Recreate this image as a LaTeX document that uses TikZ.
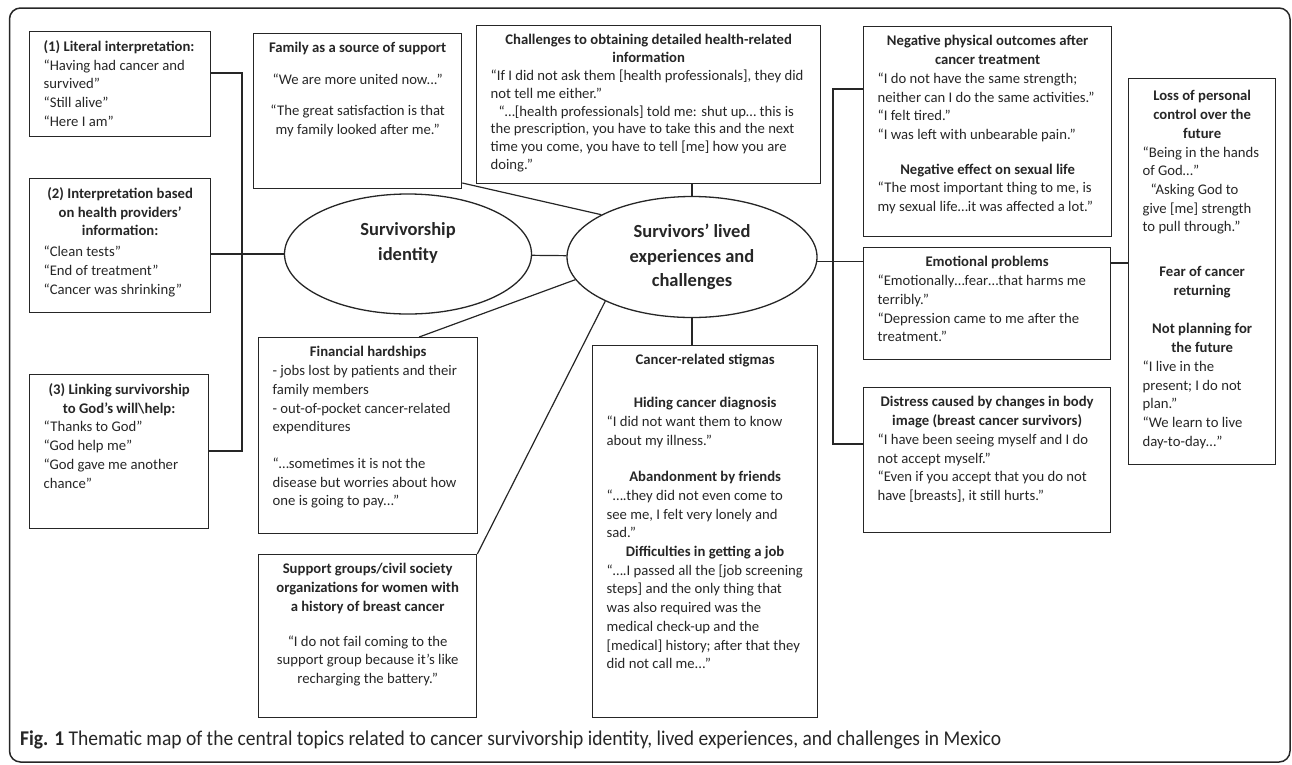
\documentclass[tikz,border=0pt]{standalone}
\usepackage{fontspec}
\setmainfont{Carlito}
\newfontfamily\capfont{Carlito}[FakeStretch=0.93]
\usetikzlibrary{shapes.geometric}

\tikzset{
  theme/.style={draw=black!85, line width=1.3pt, anchor=north west, inner xsep=14pt, inner ysep=9pt, text=black!85, font=\fontsize{14.7}{18.7}\selectfont},
  core/.style={ellipse, draw=black!85, line width=1.3pt, inner sep=0pt, align=center, text=black!85, font=\fontsize{18.5}{24.5}\selectfont\bfseries},
  link/.style={draw=black!85, line width=1.2pt}
}
\newcommand{\cellbox}[3]{\parbox[t][#2][t]{#1}{\raggedright #3}}
\newcommand{\hd}[1]{{\centering\bfseries #1\par}}
\newcommand{\cq}[1]{{\centering #1\par}}

\begin{document}
\begin{tikzpicture}[x=1pt, y=-1pt]
  \useasboundingbox (0,0) rectangle (1292,764);
  \draw[black!85, line width=1.5pt, rounded corners=11pt] (9.5,8) rectangle (1290,762);

  \node[theme] (lit) at (29,31) {\cellbox{153pt}{87pt}{%
    {\bfseries (1) Literal interpretation:}\\
    “Having had cancer and\\
    survived”\\
    “Still alive”\\
    “Here I am”}};
  \node[theme] (interp) at (29,178) {\cellbox{153pt}{116pt}{%
    \hd{(2) Interpretation based\\ on health providers’\\ information:}\vspace{2pt}
    “Clean tests”\\
    “End of treatment”\\
    “Cancer was shrinking”}};
  \node[theme] (god) at (29,374) {\cellbox{151pt}{136pt}{%
    \hd{(3) Linking survivorship\\ to God’s will\textbackslash help:}
    “Thanks to God”\\
    “God help me”\\
    “God gave me another\\
    chance”}};

  \node[theme] (family) at (253,33) {\cellbox{180pt}{137pt}{%
    \hd{Family as a source of support}\vspace{13pt}
    \cq{“We are more united now...”}\vspace{12pt}
    \cq{“The great satisfaction is that\\ my family looked after me.”}}};
  \node[theme] (chal) at (476,25) {\cellbox{316pt}{140pt}{\fontsize{14.7}{17.8}\selectfont
    \hd{Challenges to obtaining detailed health-related\\ information}
    “If I did not ask them [health professionals], they did\\
    not tell me either.”\\
    \hspace*{8pt}“…[health professionals] told me: shut up… this is\\
    the prescription, you have to take this and the next\\
    time you come, you have to tell [me] how you are\\
    doing.”}};

  \node[theme] (phys) at (863,26) {\cellbox{220pt}{192pt}{%
    \hd{Negative physical outcomes after\\ cancer treatment}
    “I do not have the same strength;\\
    neither can I do the same activities.”\\
    “I felt tired.”\\
    “I was left with unbearable pain.”\par\vspace{16pt}
    \hd{Negative effect on sexual life}
    “The most important thing to me, is\\
    my sexual life…it was affected a lot.”}};
  \node[theme] (emo) at (863,247) {\cellbox{219pt}{94pt}{%
    \hd{Emotional problems}
    “Emotionally…fear…that harms me\\
    terribly.”\\
    “Depression came to me after the\\
    treatment.”}};
  \node[theme] (body) at (863,387) {\cellbox{219pt}{127pt}{%
    \hd{Distress caused by changes in body\\ image (breast cancer survivors)}
    “I have been seeing myself and I do\\
    not accept myself.”\\
    “Even if you accept that you do not\\
    have [breasts], it still hurts.”}};
  \node[theme] (loss) at (1128,78) {\cellbox{119pt}{368pt}{\vspace*{3pt}%
    \hd{Loss of personal\\ control over the\\ future}
    “Being in the hands\\
    of God…”\\
    \hspace*{8pt}“Asking God to\\
    give [me] strength\\
    to pull through.”\par\vspace{26pt}
    \hd{Fear of cancer\\ returning}\vspace{20pt}
    \hd{Not planning for\\ the future}
    “I live in the\\
    present; I do not\\
    plan.”\\
    “We learn to live\\
    day-to-day…”}};

  \node[theme] (money) at (258,337) {\cellbox{191pt}{178pt}{%
    \hd{Financial hardships}
    - jobs lost by patients and their\\
    family members\\
    - out-of-pocket cancer-related\\
    expenditures\par\vspace{18pt}
    “…sometimes it is not the\\
    disease but worries about how\\
    one is going to pay...”}};
  \node[theme] (group) at (258,554) {\cellbox{190pt}{145pt}{%
    \hd{Support groups/civil society\\ organizations for women with\\ a history of breast cancer}\vspace{16pt}
    \cq{“I do not fail coming to the\\ support group because it's like\\ recharging the battery.”}}};
  \node[theme] (stigma) at (592,345) {\cellbox{197pt}{354pt}{%
    \hd{Cancer-related stigmas}\vspace{24pt}
    \hd{Hiding cancer diagnosis}
    “I did not want them to know\\
    about my illness.”\par\vspace{18pt}
    \hd{Abandonment by friends}
    “….they did not even come to\\
    see me, I felt very lonely and\\
    sad.”\par
    \hd{Difficulties in getting a job}
    “….I passed all the [job screening\\
    steps] and the only thing that\\
    was also required was the\\
    medical check-up and the\\
    {}[medical] history; after that they\\
    did not call me...”}};

  \node[core, minimum width=247pt, minimum height=120pt] (iden) at (408,254) {Survivorship\\identity\\\mbox{}};
  \node[core, minimum width=250pt, minimum height=121pt] (lived) at (692,257) {Survivors’ lived\\experiences and\\challenges};

  \coordinate (lj) at (242,254);
  \coordinate (rj) at (833,444);
  \draw[link] (lit.east |- 0,73) -| (lj) |- (god.east |- 0,451);
  \draw[link] (interp.east |- lj) -- (iden.west);
  \draw[link] (iden) -- (lived);
  \draw[link] (family.east |- 0,183) -- (lived.155);
  \draw[link] (chal.south -| lived.north) -- (lived.north);
  \draw[link] ([xshift=51pt]money.north) -- (lived.191);
  \draw[link] (group.north east) -- (lived.207);
  \draw[link] (lived.south) -- (lived.south |- stigma.north);
  \draw[link] (lived.-2) -- (lived.-2 -| emo.west);
  \draw[link] (phys.west |- 0,89) -| (rj) -- (body.west |- rj);
  \draw[link] (emo.east |- 0,263) -- (loss.west |- 0,263);

  \node[anchor=base west, inner sep=0pt, text=black!85] (cap) at (20,745) {\capfont\fontsize{21}{24}\selectfont\textbf{Fig. 1} Thematic map of the central topics related to cancer survivorship identity, lived experiences, and challenges in Mexico};
\end{tikzpicture}
\end{document}
